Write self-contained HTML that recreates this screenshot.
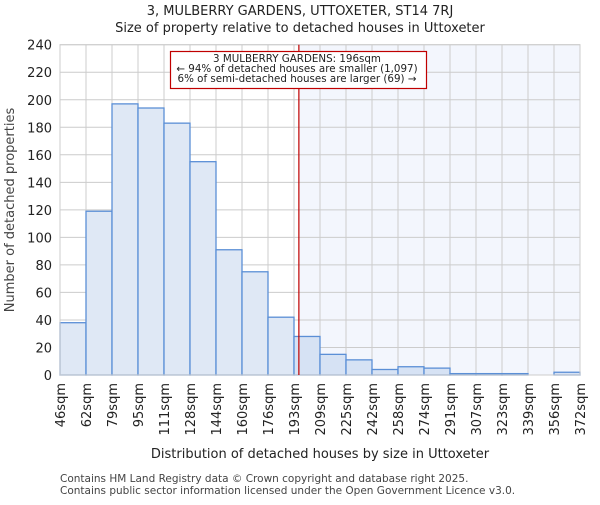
<!DOCTYPE html>
<html><head><meta charset="utf-8"><style>
body{margin:0;background:#fff;}
svg{font-family:"DejaVu Sans","Liberation Sans",sans-serif;}
</style></head><body>
<svg id="chart" width="600" height="500" xmlns="http://www.w3.org/2000/svg">
<text x="300" y="15" text-anchor="middle" font-size="13" fill="#222">3, MULBERRY GARDENS, UTTOXETER, ST14 7RJ</text>
<text x="300" y="32" text-anchor="middle" font-size="13" fill="#222">Size of property relative to detached houses in Uttoxeter</text>
<g id="plot"></g>
<text transform="translate(14,210) rotate(-90)" text-anchor="middle" font-size="13" fill="#444">Number of detached properties</text>
<text x="320" y="458" text-anchor="middle" font-size="13" fill="#222">Distribution of detached houses by size in Uttoxeter</text>
<text x="60" y="482" font-size="10.5" fill="#444">Contains HM Land Registry data © Crown copyright and database right 2025.</text>
<text x="60" y="494" font-size="10.5" fill="#444">Contains public sector information licensed under the Open Government Licence v3.0.</text>
</svg>
<script>
const binLabels=["46sqm","62sqm","79sqm","95sqm","111sqm","128sqm","144sqm","160sqm","176sqm","193sqm","209sqm","225sqm","242sqm","258sqm","274sqm","291sqm","307sqm","323sqm","339sqm","356sqm","372sqm"];
const binEdges=[46,62,79,95,111,128,144,160,176,193,209,225,242,258,274,291,307,323,339,356,372];
const counts=[38,119,197,194,183,155,91,75,42,28,15,11,4,6,5,1,1,1,0,2];
const yTicks=[0,20,40,60,80,100,120,140,160,180,200,220,240];
const propertySize=196;
const annotationLines=["3 MULBERRY GARDENS: 196sqm","← 94% of detached houses are smaller (1,097)","6% of semi-detached houses are larger (69) →"];

const NS="http://www.w3.org/2000/svg";
const X0=60,X1=580,Y0=375,Y1=44.7,YMAX=240;
const nb=counts.length;
const xi=i=>X0+(X1-X0)*i/nb;
const xv=v=>{for(let i=0;i<binEdges.length-1;i++){if(v<=binEdges[i+1])return xi(i)+(v-binEdges[i])/(binEdges[i+1]-binEdges[i])*(xi(i+1)-xi(i));}return X1;};
const y=v=>Y0-(Y0-Y1)*v/YMAX;
const g=document.getElementById('plot');
function mk(t,a){const e=document.createElementNS(NS,t);for(const k in a)e.setAttribute(k,a[k]);g.appendChild(e);return e;}
const lx=xv(propertySize);
let e=mk('rect',{x:lx,y:Y1,width:X1-lx,height:Y0-Y1,fill:'#f3f6fd'});


yTicks.forEach(t=>{let l=mk('line',{x1:X0,x2:X1,y1:y(t),y2:y(t),stroke:'#cccccc','stroke-width':1});


let tx=mk('text',{x:X0-8,y:y(t)+5,'text-anchor':'end','font-size':13,fill:'#222'});tx.textContent=t;

});
binLabels.forEach((b,i)=>{let l=mk('line',{x1:xi(i),x2:xi(i),y1:Y1,y2:Y0,stroke:'#cccccc','stroke-width':1});


let tx=mk('text',{transform:`translate(${xi(i)+5},${Y0+8}) rotate(-90)`,'text-anchor':'end','font-size':13,fill:'#222'});tx.textContent=b;

});
counts.forEach((c,i)=>{if(c<=0)return;const r=mk('rect',{x:xi(i),y:y(c),width:xi(i+1)-xi(i),height:Y0-y(c),fill:xi(i)>=lx-20?'#d6e2f4':'#dfe8f5',stroke:'#5b8fd6','stroke-width':1.3});

});
e=mk('rect',{x:X0,y:Y1,width:X1-X0,height:Y0-Y1,fill:'none',stroke:'#cccccc','stroke-width':1});


e=mk('line',{x1:lx,x2:lx,y1:Y1,y2:Y0,stroke:'#c00000','stroke-width':1.2});


e=mk('rect',{x:170.5,y:51.5,width:256,height:37,fill:'#fff',stroke:'#c00000','stroke-width':1.2});


annotationLines.forEach((s,i)=>{let t=mk('text',{x:297,y:62+i*10,'text-anchor':'middle','font-size':10.3,fill:'#222'});t.textContent=s;

});
</script>
</body></html>
